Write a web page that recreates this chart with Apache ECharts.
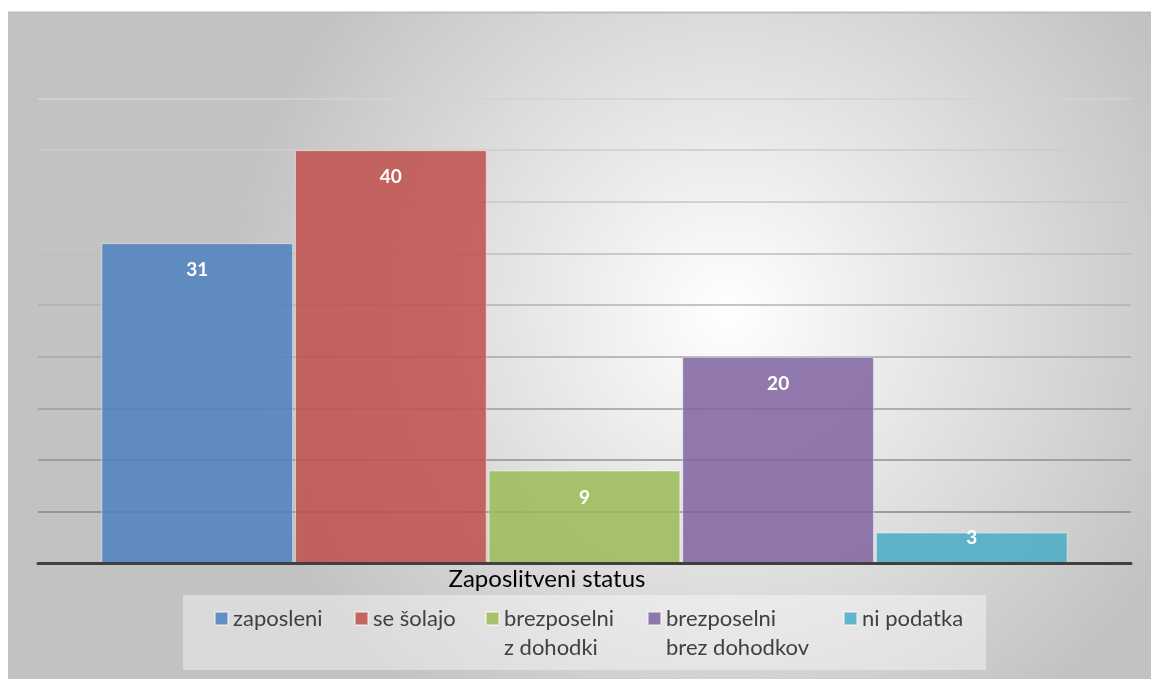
<!DOCTYPE html>
<html>
<head>
<meta charset="utf-8">
<script src="https://cdn.jsdelivr.net/npm/echarts@6/dist/echarts.min.js"></script>
<style>
html,body{margin:0;padding:0;background:#fff;}
#chart{width:1151px;height:679px;}
</style>
</head>
<body>
<div id="chart"></div>
<script>
const categories = ['Zaposlitveni status'];
const seriesNames = ['zaposleni', 'se šolajo', 'brezposelni\nz dohodki', 'brezposelni\nbrez dohodkov', 'ni podatka'];
const seriesValues = [31, 40, 9, 20, 3];
const axisTitle = 'Zaposlitveni status';
const yTicks = [0, 5, 10, 15, 20, 25, 30, 35, 40, 45];

const colors = ['rgba(79,129,189,0.86)', 'rgba(192,80,77,0.86)', 'rgba(155,187,89,0.86)', 'rgba(128,100,162,0.86)', 'rgba(75,172,198,0.86)'];
const legendX = [214, 354, 485, 647, 843];
const gridColors = ['#7a7a7a', '#868686', '#919191', '#9c9c9c', '#a7a7a7', '#b2b2b2', '#bdbdbd', '#c6c6c6', '#cdcdcd', '#d3d3d3'];

const chart = echarts.init(document.getElementById('chart'), null, {renderer: 'canvas'});

const series = seriesNames.map((name, i) => ({
  name: name,
  type: 'bar',
  barGap: '1%',
  barCategoryGap: '11.6%',
  itemStyle: {color: colors[i], borderColor: 'rgba(255,255,255,0.45)', borderWidth: 1},
  label: {
    show: true,
    position: 'insideTop',
    distance: seriesValues[i] < 5 ? -5.5 : 16,
    color: '#ffffff',
    fontFamily: 'Lato',
    fontWeight: 'bold',
    fontSize: 19,
    lineHeight: 22
  },
  data: [seriesValues[i]]
}));

const LH = 29;
const legends = seriesNames.map((name, i) => {
  const multi = name.indexOf('\n') >= 0;
  return {
    data: [name],
    left: legendX[i],
    top: multi ? 575 : 604,
    padding: 0,
    itemWidth: 13,
    itemHeight: 13,
    icon: 'rect',
    selectedMode: false,
    formatter: (n) => (n.indexOf('\n') >= 0 ? ' \n' + n : n),
    textStyle: {
      color: '#404040',
      fontFamily: 'Lato',
      fontSize: 22,
      lineHeight: LH
    }
  };
});

chart.setOption({
  animation: false,
  color: colors,
  graphic: [
    {
      type: 'rect', z: -10, silent: true,
      shape: {x: 8, y: 12, width: 1143, height: 667},
      style: {
        fill: {
          type: 'radial', x: 0.63, y: 0.45, r: 0.75,
          colorStops: [{offset: 0, color: '#ffffff'}, {offset: 1, color: '#c2c2c2'}]
        }
      }
    },
    {
      type: 'line', z: -9, silent: true,
      shape: {x1: 8, y1: 12.5, x2: 1151, y2: 12.5},
      style: {stroke: '#bdbdbd', lineWidth: 2}
    },
    {
      type: 'rect', z: -8, silent: true,
      shape: {x: 183, y: 595, width: 803, height: 75},
      style: {fill: 'rgba(255,255,255,0.4)'}
    },
    {
      type: 'text', z: 10, silent: true,
      style: {
        text: axisTitle, x: 547, y: 579,
        align: 'center', verticalAlign: 'middle',
        fill: '#000000', font: '24px Lato'
      }
    }
  ],
  legend: legends,
  grid: {left: 38, right: 20, top: 98.5, bottom: 115.5, containLabel: false},
  xAxis: {
    type: 'category',
    data: categories,
    axisLabel: {show: false},
    axisTick: {show: false},
    axisLine: {show: true, lineStyle: {color: '#404040', width: 3}},
    z: 5
  },
  yAxis: {
    type: 'value',
    min: yTicks[0],
    max: yTicks[yTicks.length - 1],
    interval: 5,
    axisLabel: {show: false},
    axisTick: {show: false},
    axisLine: {show: false},
    splitLine: {show: true, lineStyle: {color: gridColors, width: 1.5}}
  },
  series: series
});
</script>
</body>
</html>
